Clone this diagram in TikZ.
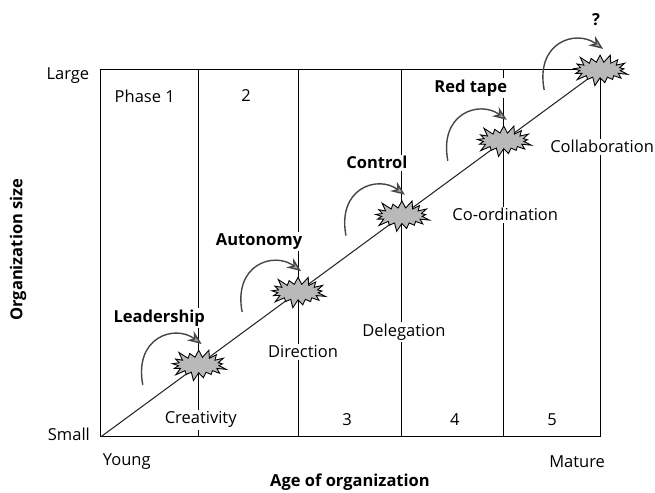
\documentclass[tikz,border=0pt]{standalone}
\usepackage{fontspec}
\setmainfont{Open Sans}
\usetikzlibrary{shapes.symbols,arrows.meta,positioning}

\begin{document}
\begin{tikzpicture}[
    txt/.style={font=\fontsize{9.4}{11}\selectfont, inner sep=1pt},
    stage/.style={txt, fill=white},
    crisis/.style={txt, font=\bfseries\fontsize{9.4}{11}\selectfont, fill=white},
    axis/.style={txt, font=\bfseries\fontsize{9.4}{11}\selectfont},
    burst/.style={starburst, starburst points=17, starburst point height=5.5pt, draw=black, line width=0.5pt, fill=gray!55, minimum width=1.2cm, minimum height=0.7cm, inner sep=0pt},
    revolution/.style={draw=gray!55!black, line width=0.8pt, -{Stealth[length=8pt,width=6.5pt,fill=gray!70]}}
]
\useasboundingbox (-2.02,-1.12) rectangle (11.10,8.75);

% Frame and phase dividers
\draw[line width=0.6pt] (0,0) rectangle (10,7.35);
\foreach \x in {1.96,3.95,6.03,8.07}
    \draw[line width=0.6pt] (\x,0) -- (\x,7.35);

% Growth line
\draw[line width=0.6pt, gray!30!black] (0,0) -- (10,7.35);

% Crises
\node[burst] (s1) at (1.96,1.44) {};
\node[burst] (s2) at (3.95,2.90) {};
\node[burst] (s3) at (6.03,4.43) {};
\node[burst] (s4) at (8.07,5.93) {};
\node[burst] (s5) at (10,7.35) {};

% Evolution labels
\node[stage] (creativity) at (2.00,0.34) {Creativity};
\node[stage] (direction) at (4.05,1.70) {Direction};
\node[stage] (delegation) at (6.07,2.09) {Delegation};
\node[stage] (coordination) at (8.10,4.45) {Co-ordination};
\node[stage] (collaboration) at (10.04,5.81) {Collaboration};

% Revolution labels
\node[crisis] (leadership) at (1.17,2.38) {Leadership};
\node[crisis] (autonomy) at (3.17,3.91) {Autonomy};
\node[crisis] (control) at (5.53,5.49) {Control};
\node[crisis] (redtape) at (7.41,6.99) {Red tape};
\node[crisis] (unknown) at (9.92,8.35) {?};

% Phase numbers
\node[txt] (p1) at (0.88,6.83) {Phase 1};
\node[txt] (p2) at (2.91,6.83) {2};
\node[txt] (p3) at (4.93,0.34) {3};
\node[txt] (p4) at (7.09,0.34) {4};
\node[txt] (p5) at (9.04,0.34) {5};

% Arrows into each crisis
\foreach \s in {s1,s2,s3,s4,s5}
    \draw[revolution] (\s.center) ++(-1.12,-0.40) .. controls +(-0.18,0.95) and +(-0.55,0.4) .. ++(1.18,0.82);

% Axes
\node[txt] (large) at (-0.66,7.23) {Large};
\node[txt] (small) at (-0.64,0.06) {Small};
\node[txt] (young) at (0.52,-0.50) {Young};
\node[txt] (mature) at (9.54,-0.50) {Mature};
\node[axis] (xlabel) at (4.99,-0.90) {Age of organization};
\node[axis, rotate=90] (ylabel) at (-1.66,3.75) {Organization size};

\end{tikzpicture}
\end{document}
